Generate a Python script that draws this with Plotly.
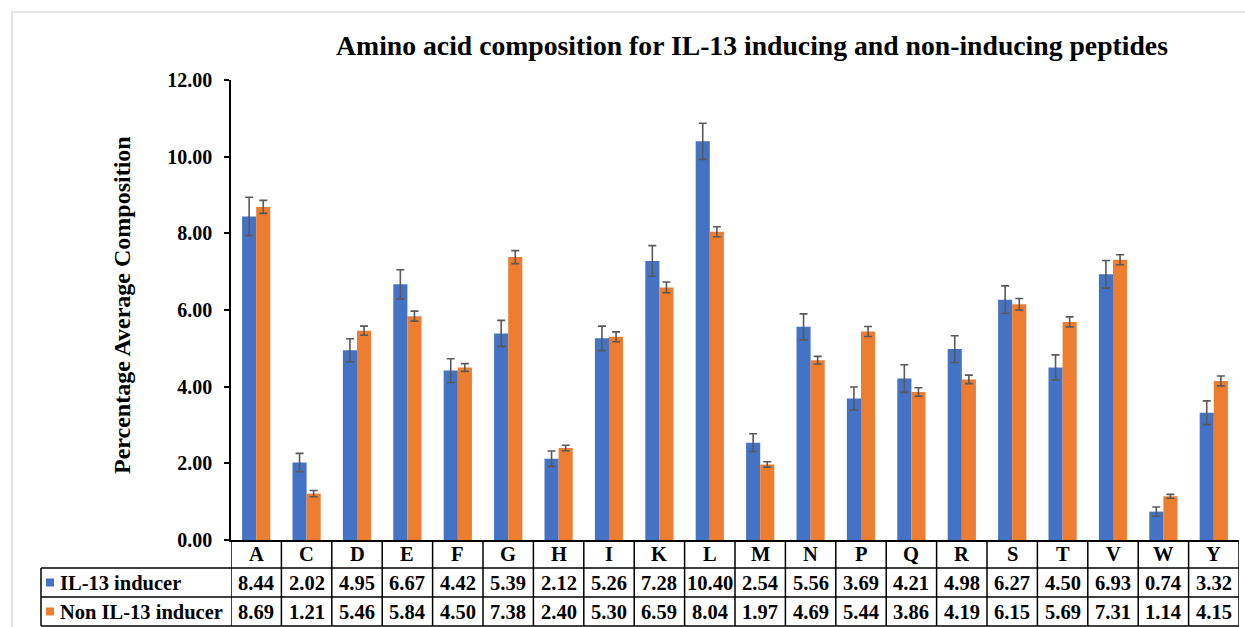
import plotly.graph_objects as go

categories = ["A", "C", "D", "E", "F", "G", "H", "I", "K", "L",
              "M", "N", "P", "Q", "R", "S", "T", "V", "W", "Y"]
inducer = [8.44, 2.02, 4.95, 6.67, 4.42, 5.39, 2.12, 5.26, 7.28, 10.40,
           2.54, 5.56, 3.69, 4.21, 4.98, 6.27, 4.50, 6.93, 0.74, 3.32]
non_inducer = [8.69, 1.21, 5.46, 5.84, 4.50, 7.38, 2.40, 5.30, 6.59, 8.04,
               1.97, 4.69, 5.44, 3.86, 4.19, 6.15, 5.69, 7.31, 1.14, 4.15]
inducer_err = [0.50, 0.24, 0.30, 0.38, 0.31, 0.34, 0.20, 0.32, 0.40, 0.47,
               0.23, 0.34, 0.30, 0.36, 0.35, 0.36, 0.33, 0.36, 0.12, 0.31]
non_inducer_err = [0.17, 0.08, 0.12, 0.13, 0.10, 0.17, 0.07, 0.13, 0.14, 0.13,
                   0.07, 0.10, 0.13, 0.11, 0.11, 0.15, 0.13, 0.13, 0.05, 0.13]
series_names = ["IL-13 inducer", "Non IL-13 inducer"]
colors = ["#4472C4", "#ED7D31"]
yticks = [0, 2, 4, 6, 8, 10, 12]
ytick_labels = ["0.00", "2.00", "4.00", "6.00", "8.00", "10.00", "12.00"]

W, H = 1245, 627
L, R, T, B = 231, 6, 80, 87
pw, ph = W - L - R, H - T - B

def px_x(px):
    return (px - L) / pw

def px_y(py):
    return (H - B - py) / ph

FONT = "Liberation Serif"
fig = go.Figure()
for name, vals, errs, col in [(series_names[0], inducer, inducer_err, colors[0]),
                              (series_names[1], non_inducer, non_inducer_err, colors[1])]:
    fig.add_trace(go.Bar(
        x=categories, y=vals, name=name, marker=dict(color=col, line=dict(width=0)),
        error_y=dict(type="data", array=errs, color="#595959", thickness=1.6, width=4),
    ))

shapes = []
line = dict(color="black", width=1.5)
# outer light frame
shapes.append(dict(type="rect", xref="paper", yref="paper",
                   x0=px_x(12), x1=px_x(1260), y0=px_y(12), y1=px_y(640),
                   line=dict(color="#d9d9d9", width=1.5), layer="below"))
# horizontal table lines
for py in [568, 597, 626]:
    shapes.append(dict(type="line", xref="paper", yref="paper",
                       x0=px_x(41), x1=1, y0=px_y(py), y1=px_y(py), line=line))
# vertical lines at category boundaries
for i in range(len(categories) + 1):
    shapes.append(dict(type="line", xref="x", yref="paper",
                       x0=i - 0.5, x1=i - 0.5, y0=0, y1=px_y(626), line=line))
# left edge of legend column
shapes.append(dict(type="line", xref="paper", yref="paper",
                   x0=px_x(41), x1=px_x(41), y0=px_y(568), y1=px_y(626), line=line))
# legend keys
for j, py in enumerate([582.5, 611.5]):
    shapes.append(dict(type="rect", xref="paper", yref="paper",
                       x0=px_x(46), x1=px_x(54), y0=px_y(py - 4), y1=px_y(py + 4),
                       fillcolor=colors[j], line=dict(width=0)))

ann = []
tf = dict(family=FONT, size=20.5, color="black")
for c in categories:
    ann.append(dict(x=c, y=px_y(554), xref="x", yref="paper", text="<b>%s</b>" % c,
                    showarrow=False, font=tf, xanchor="center", yanchor="middle"))
for j, (vals, py) in enumerate([(inducer, 582.5), (non_inducer, 611.5)]):
    for c, v in zip(categories, vals):
        ann.append(dict(x=c, y=px_y(py), xref="x", yref="paper", text="<b>%.2f</b>" % v,
                        showarrow=False, font=tf, xanchor="center", yanchor="middle"))
    ann.append(dict(x=px_x(58), y=px_y(py), xref="paper", yref="paper",
                    text="<b>%s</b>" % series_names[j], showarrow=False, font=tf,
                    xanchor="left", yanchor="middle"))
# y-axis title
ann.append(dict(x=px_x(122), y=px_y(305), xref="paper", yref="paper",
                text="<b>Percentage Average Composition</b>", textangle=-90,
                showarrow=False, font=dict(family=FONT, size=24, color="black"),
                xanchor="center", yanchor="middle"))

fig.update_layout(
    width=W, height=H,
    margin=dict(l=L, r=R, t=T, b=B),
    paper_bgcolor="white", plot_bgcolor="white",
    title=dict(text="<b>Amino acid composition for IL-13 inducing and non-inducing peptides</b>",
               xref="container", x=752 / W, xanchor="center",
               yref="container", y=1 - 45 / H, yanchor="middle",
               font=dict(family=FONT, size=27.7, color="black")),
    barmode="group", bargap=0.44, bargroupgap=0,
    showlegend=False,
    shapes=shapes, annotations=ann,
    xaxis=dict(showticklabels=False, showline=True, linecolor="black", linewidth=1.5,
               ticks="", showgrid=False, range=[-0.5, len(categories) - 0.5]),
    yaxis=dict(range=[0, 12], tickvals=yticks,
               ticktext=["<b>%s</b>" % t for t in ytick_labels],
               showline=True, linecolor="black", linewidth=1.5,
               ticks="outside", ticklen=5, tickcolor="black", tickwidth=1.5,
               ticklabelstandoff=8,
               showgrid=False, zeroline=False,
               tickfont=dict(family=FONT, size=20, color="black")),
)

fig.write_html("out.html", config={"displayModeBar": False},
               post_script="document.body.style.margin='0px';document.body.style.overflow='hidden';")
